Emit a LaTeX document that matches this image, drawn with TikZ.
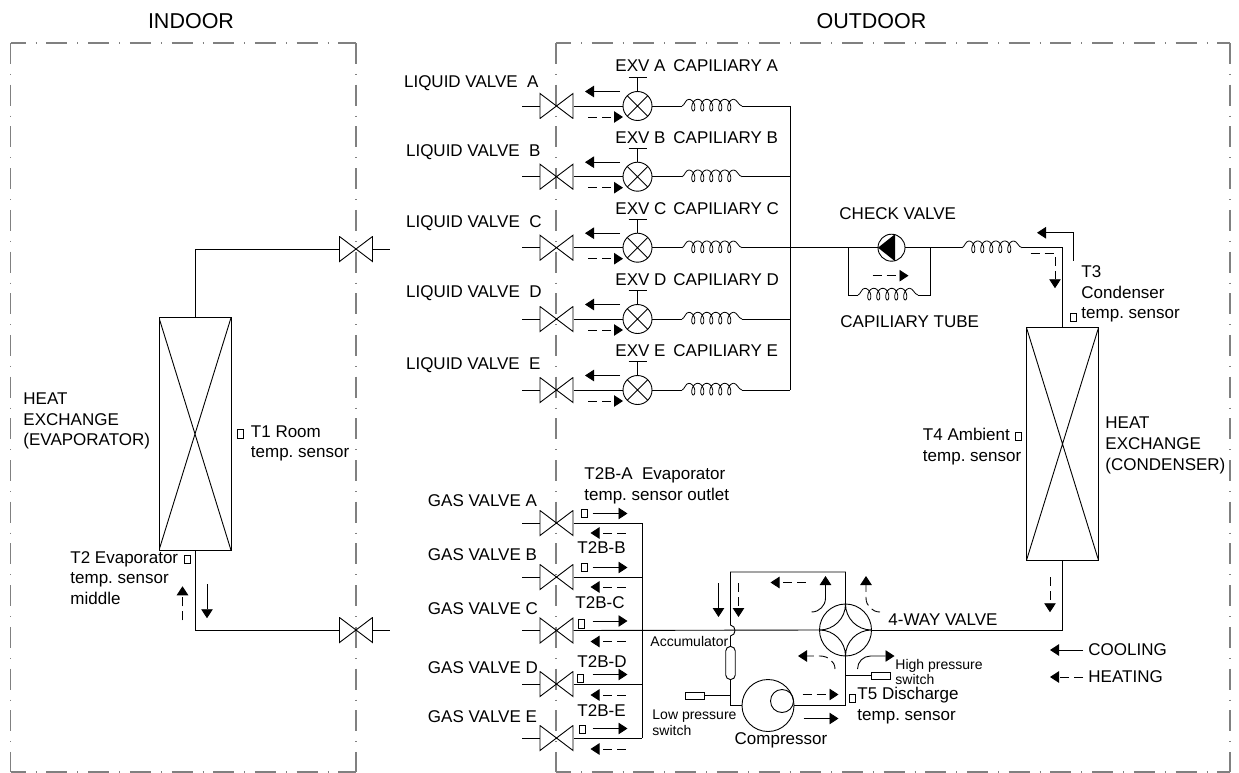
\documentclass[tikz,border=0pt]{standalone}
\usepackage{fontspec}
\setmainfont{Liberation Sans}
\usepackage{tikz}
\usetikzlibrary{arrows.meta, calc}
\frenchspacing

\begin{document}
\begin{tikzpicture}[
		x = 1pt, y = -1pt,
		line width = 0.9pt,
		> = {Triangle[length=9pt, width=11.5pt]},
		txt/.style    = {inner sep=0, anchor=west, align=left, font=\fontsize{17}{20.8}\selectfont},
		small/.style  = {inner sep=0, anchor=west, align=left, font=\fontsize{14}{15.5}\selectfont},
		big/.style    = {inner sep=0, font=\fontsize{21.5}{24}\selectfont},
		zone/.style   = {draw=gray, line width=1.1pt, dash pattern=on 21pt off 10pt on 1pt off 9.7pt},
		valve/.style  = {minimum width=34pt, minimum height=26pt, inner sep=0, outer sep=0,
			path picture={
				\draw ([shift={(0.5,-0.5)}]path picture bounding box.south west)
					-- ([shift={(-0.5,0.5)}]path picture bounding box.north east)
					-- ([shift={(-0.5,-0.5)}]path picture bounding box.south east)
					-- ([shift={(0.5,0.5)}]path picture bounding box.north west) -- cycle;
			}},
		exv/.style    = {circle, draw, minimum size=29pt, inner sep=0, outer sep=0,
			path picture={
				\draw (path picture bounding box.south west) -- (path picture bounding box.north east)
					(path picture bounding box.north west) -- (path picture bounding box.south east);
			}},
		hx/.style     = {draw, minimum width=72pt, minimum height=232.5pt, inner sep=0, outer sep=0,
			path picture={
				\draw (path picture bounding box.south west) -- (path picture bounding box.north east)
					(path picture bounding box.north west) -- (path picture bounding box.south east);
			}},
		sensor/.style = {draw, line width=0.7pt, minimum width=6pt, minimum height=8.5pt, inner sep=0},
		switch/.style = {draw, line width=0.7pt, minimum width=19pt, minimum height=7pt, inner sep=0, outer sep=0},
		coil/.pic     = {
			\draw [line width=0.8pt] (0,0) .. controls (2.5,-0.5) and (3.5,-6.7) .. (6.8,-6.7);
			\draw [line width=0.8pt] plot [domain=0:31.416, samples=110, smooth, variable=\t]
				({6.8+1.43*\t+3.5*sin(\t r)}, {-0.85-5.85*cos(\t r)});
			\draw [line width=0.8pt] (51.8,-6.7) .. controls (55,-6.7) and (56.5,-0.5) .. (60,0);
		},
		cool/.style   = {->},
		heat/.style   = {->, dash pattern=on 9pt off 5pt}
	]
	\useasboundingbox (0,0) rectangle (1239,773);

	\foreach \xa/\xb in {10.7/356, 556/1230} {
		\draw [zone] (\xa,43) -- (\xa,772);
		\draw [zone] (\xb,43) -- (\xb,772);
		\draw [zone, dash phase=6pt] (\xa,43) -- (\xb,43);
		\draw [zone, dash phase=6pt] (\xa,772) -- (\xb,772);
	}

	\node [big] (indoor) at (191,21) {INDOOR};
	\node [big] (outdoor) at (871.5,21) {OUTDOOR};

	% indoor side
	\node [hx] (evap) at (195,434) {};
	\node [valve] (vtop) at (356,249) {};
	\node [valve] (vbot) at (356,630) {};
	\draw (evap.north) |- (vtop.west);
	\draw (evap.south) |- (vbot.west);
	\draw (vtop.east) -- ++(17,0);
	\draw (vbot.east) -- ++(17,0);
	\node [txt] (evaplabel) at (23,421) {HEAT\\EXCHANGE\\(EVAPORATOR)};
	\node [sensor] (tone) at (240,434) {};
	\node [txt] (tonelabel) at (250.5,443.5) {T1 Room\\temp. sensor};
	\node [sensor] (ttwo) at (187,559.5) {};
	\node [txt] (ttwolabel) at (70,578) {T2 Evaporator\\temp. sensor\\middle};
	\draw [cool] ([shift={(12,34)}]evap.south) -- ++(0,34);
	\draw [heat] ([shift={(-12.5,70)}]evap.south) -- ++(0,-34);

	% liquid lines
	\foreach \n/\y/\lx/\ly/\ty in {A/106/539/83/66, B/176.7/541/152/138, C/247.7/542/223/209, D/319/542/293.5/280, E/390/541/365/351} {
		\node [valve] (lv\n) at (556.5,\y) {};
		\node [exv] (exv\n) at (637.5,\y) {};
		\coordinate (coil\n a) at (682,\y);
		\coordinate (coil\n b) at (742,\y);
		\coordinate (bus\n) at (790,\y);
		\draw (lv\n.west) -- ++(-18,0);
		\draw (lv\n.east) -- (exv\n.west);
		\draw (exv\n.east) -- (coil\n a);
		\pic at (coil\n a) {coil};
		\draw (coil\n b) -- (bus\n);
		\draw (exv\n.north) -- ++(0,-14) coordinate (stem\n);
		\draw ([xshift=-9pt]stem\n) -- ([xshift=9pt]stem\n);
		\draw [cool] ([shift={(-17.5,-14.5)}]exv\n.center) -- ++(-35,0);
		\draw [heat] ([shift={(-49.5,11)}]exv\n.center) -- ++(35,0);
		\node [txt, anchor=east] (liquid\n) at (\lx,\ly) {LIQUID VALVE\ \ \n};
		\node [txt] (exvlabel\n) at (615,\ty) {EXV \n};
		\node [txt] (cap\n) at (673,\ty) {CAPILIARY \n};
	}
	\draw (busA) -- (busE);

	% check valve and capillary tube
	\node [circle, draw, minimum size=27pt, inner sep=0, outer sep=0] (check) at (891.5,247.7) {};
	\draw (busC) -- (check.west);
	\fill (check.west) -- ([xshift=3.5pt]check.north) -- ([xshift=3.5pt]check.south) -- cycle;
	\coordinate (bypa) at (848,247.7);
	\coordinate (bypb) at (930,247.7);
	\coordinate (tubea) at (858,295);
	\coordinate (tubeb) at (918,295);
	\draw (bypa) |- (tubea);
	\pic at (tubea) {coil};
	\draw (tubeb) -| (bypb);
	\coordinate (lina) at (962,247.7);
	\coordinate (linb) at (1022,247.7);
	\draw (check.east) -- (lina);
	\pic at (lina) {coil};
	\node [txt] (checklabel) at (839,214) {CHECK VALVE};
	\node [txt] (tubelabel) at (840,322) {CAPILIARY TUBE};
	\draw [heat] ([shift={(-19,28)}]check.center) -- ++(36,0);

	% outdoor coil
	\node [hx] (cond) at (1062.5,444) {};
	\draw (linb) -| (cond.north);
	\node [txt] (condlabel) at (1105,445.5) {HEAT\\EXCHANGE\\(CONDENSER)};
	\node [sensor] (tthree) at (1073,317.5) {};
	\node [txt] (tthreelabel) at (1081,294) {T3\\Condenser\\temp. sensor};
	\node [sensor] (tfour) at (1018.5,436.5) {};
	\node [txt] (tfourlabel) at (922.5,446.5) {T4 Ambient\\temp. sensor};
	\draw [cool] ([shift={(10.5,-67)}]cond.north) |- ++(-36,-28);
	\draw [heat] ([shift={(-32,-74.5)}]cond.north) -| ++(24.5,35);
	\draw [heat] ([shift={(-12.5,17)}]cond.south) -- ++(0,35);

	% gas lines
	\foreach \n/\y/\sx/\sy/\dy/\ly in {A/523/584/513.5/10/501, B/577/584/567.5/10/555, C/630.5/581.5/624/11/609, D/684/580/678.5/11/668, E/738/582.5/729.5/11/717} {
		\node [valve] (gv\n) at (556.5,\y) {};
		\coordinate (gbus\n) at (642,\y);
		\draw (gv\n.west) -- ++(-18,0);
		\node [sensor] (sen\n) at (\sx,\sy) {};
		\draw [cool] ([shift={(36,-9.5)}]gv\n.center) -- ++(35,0);
		\draw [heat] ([shift={(69,\dy)}]gv\n.center) -- ++(-35,0);
		\node [txt] (gas\n) at (427.5,\ly) {GAS VALVE \n};
	}
	\draw (gvA.east) -- (gbusA);
	\draw (gvB.east) -- (gbusB);
	\draw (gvD.east) -- (gbusD);
	\draw (gvE.east) -- (gbusE);
	\draw (gbusA) -- (gbusE);
	\node [txt] (tbA) at (584,485.5) {T2B-A\ \ Evaporator\\temp. sensor outlet};
	\node [txt] (tbB) at (577,548) {T2B-B};
	\node [txt] (tbC) at (575,603) {T2B-C};
	\node [txt] (tbD) at (577,662) {T2B-D};
	\node [txt] (tbE) at (577,711) {T2B-E};

	% compressor loop
	\node [circle, draw, minimum size=52pt, inner sep=0, outer sep=0] (way) at (845.5,630) {};
	\draw (way.north) to [out=-90, in=180] (way.east) to [out=180, in=90] (way.south)
		to [out=90, in=0] (way.west) to [out=0, in=-90] (way.north);
	\draw (gvC.east) -- (way.west);
	\draw (way.east) -| (cond.south);
	\node [draw, minimum width=9.5pt, minimum height=33pt, rounded corners=4.5pt, inner sep=0, outer sep=0] (acc) at (730.5,663) {};
	\node [circle, draw, minimum size=52pt, inner sep=0, outer sep=0] (comp) at (768,705.5) {};
	\node [circle, draw, minimum size=23pt, inner sep=0, outer sep=0] (compin) at (782,701) {};
	\coordinate (bumpa) at (730.5,625);
	\coordinate (bumpb) at (730.5,636);
	\coordinate (compout) at (793.5,705.5);
	\draw (way.north) -- ++(0,-32) -| (bumpa) .. controls +(6,1) and +(6,-1) .. (bumpb) -- (acc.north);
	\draw (acc.south) |- (comp.west);
	\draw (compout) -| (way.south);
	\node [switch] (lps) at (694.5,695.5) {};
	\node [switch] (hps) at (881,675.5) {};
	\draw (lps.east) -- (lps.east -| acc.south);
	\draw (hps.west) -- (hps.west -| way.south);
	\node [sensor] (tfive) at (852,698.5) {};
	\node [small] (acclabel) at (650,641) {Accumulator};
	\node [small] (lpslabel) at (652,722.5) {Low pressure\\switch};
	\node [small] (hpslabel) at (895,672) {High pressure\\switch};
	\node [txt] (tfivelabel) at (857,705.5) {T5 Discharge\\temp. sensor};
	\node [txt, anchor=center] (complabel) at (781,740) {Compressor};
	\node [txt] (waylabel) at (888,620) {4-WAY VALVE};
	\draw [cool] ([shift={(-127,-47)}]way.center) -- ++(0,34);
	\draw [heat] ([shift={(-107,-47)}]way.center) -- ++(0,34);
	\draw [heat] ([shift={(-40,-47.5)}]way.center) -- ++(-35,0);
	\draw [cool] ([shift={(-34,-18)}]way.center) to [out=0, in=-90] ++(14,-14) -- ++(0,-22);
	\draw [heat] ([shift={(34.5,-18)}]way.center) to [out=180, in=-90] ++(-14,-14) -- ++(0,-22);
	\draw [heat] ([shift={(-10.5,39)}]way.center) to [out=90, in=0] ++(-15,-13) -- ++(-22,0);
	\draw [cool] ([shift={(12,39)}]way.center) to [out=90, in=180] ++(13,-13) -- ++(24,0);
	\draw [heat] ([shift={(-43,64.5)}]way.center) -- ++(36,0);
	\draw [cool] ([shift={(-42,88.5)}]way.center) -- ++(35,0);

	% legend
	\node [txt] (lgcool) at (1088,650) {COOLING};
	\node [txt] (lgheat) at (1088,677) {HEATING};
	\draw [cool] ([xshift=-5pt]lgcool.west) -- ++(-33,0);
	\draw [heat] ([xshift=-5pt]lgheat.west) -- ++(-33,0);
\end{tikzpicture}
\end{document}
